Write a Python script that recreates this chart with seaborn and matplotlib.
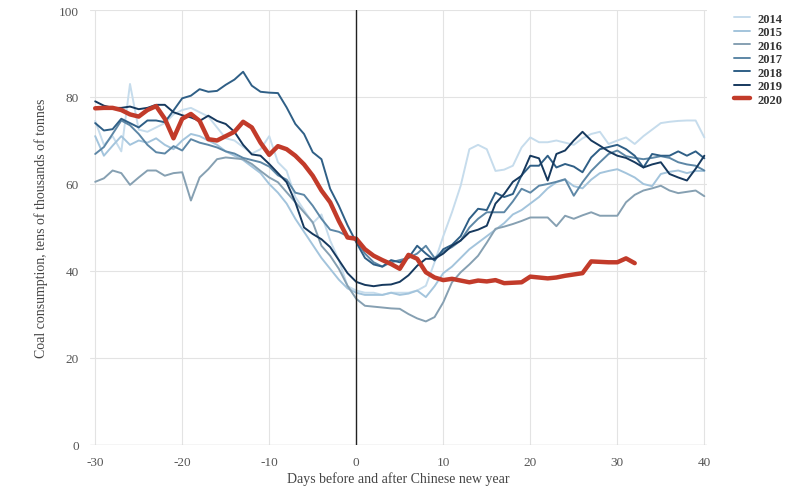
import numpy as np
import pandas as pd
import matplotlib
matplotlib.use("Agg")
import matplotlib.pyplot as plt
import seaborn as sns

# days relative to Chinese new year
days = list(range(-30, 41))
days_2020 = list(range(-30, 33))

# coal consumption, tens of thousands of tonnes
c2014 = [74.5, 69, 71, 67.5, 83, 72.5, 72, 73, 74, 76, 77, 77.5, 76.5, 75.5, 73, 70.5,
         70, 68.5, 67, 68, 71, 65, 63, 57, 54, 51, 53, 47, 42.5, 36.5,
         35.5, 35, 35, 34.5, 35, 35, 35, 35.5, 36.6, 42, 48, 53.5, 59.6, 68, 69,
         68, 63, 63.3, 64.2, 68.4, 70.7, 69.6, 69.6, 70, 69.5, 69, 70.5, 71.5, 72, 69.2,
         70, 70.7, 69.2, 71, 72.5, 74, 74.3, 74.5, 74.6, 74.6, 70.7]
c2015 = [71, 66.5, 68.8, 71, 69, 70, 69.5, 70.5, 69, 68, 70, 71.5, 71, 70, 69, 67.5,
         66.5, 65.5, 64, 62.5, 60, 58, 55.5, 52, 49, 46, 43, 40.5, 38, 36,
         35, 34.5, 34.5, 34.5, 35, 34.5, 34.8, 35.5, 34, 36.5, 39.5, 41, 43, 45, 46.5,
         48, 49.5, 51, 53, 54, 55.5, 57, 59, 60.4, 61, 59.5, 59, 61, 62.5, 63,
         63.4, 62.5, 61.5, 60, 59.5, 62.3, 62.8, 63.1, 62.5, 63, 63]
c2016 = [60.5, 61.3, 63.1, 62.5, 59.8, 61.5, 63.1, 63.1, 61.9, 62.5, 62.7, 56.2, 61.5, 63.4, 65.7,
         66.1, 65.9, 65.7, 64.6, 63, 61.5, 60.4, 58.1, 55.8, 53.5, 51.2, 45.8, 43.5, 40.5, 36.6,
         33.6, 32, 31.8, 31.6, 31.4, 31.3, 30.1, 29.1, 28.4, 29.4, 32.8, 37.4, 39.7, 41.5, 43.5,
         46.5, 49.7, 50.2, 50.8, 51.5, 52.3, 52.3, 52.3, 50.3, 52.7, 52, 52.8, 53.5, 52.7, 52.7,
         52.7, 55.8, 57.5, 58.5, 59, 59.6, 58.5, 57.9, 58.2, 58.5, 57.2]
c2017 = [66.9, 68.5, 71.5, 74.6, 73.5, 71.5, 69, 67.3, 67, 68.7, 67.7, 70.3, 69.5, 69, 68.4, 67.5,
         67, 66, 65.5, 65, 64, 62, 61, 58, 57.5, 55, 52, 49.5, 49, 48,
         47, 44, 42, 41, 42, 42.5, 43, 44, 45.8, 43, 44.5, 45.5, 47, 50, 52,
         53.5, 53.5, 53.5, 56, 58.9, 58, 59.6, 60, 60.5, 61.1, 57.3, 60.4, 63, 65, 66.9,
         67.7, 66.4, 66, 65.7, 66, 66.4, 66, 65, 64.5, 64.2, 63.1]
c2018 = [74, 72.3, 72.6, 75, 74, 73, 74.6, 74.6, 74.2, 76.9, 79.7, 80.3, 81.8, 81.2, 81.4, 82.8,
         84, 85.8, 82.6, 81.2, 81, 80.9, 77.6, 73.8, 71.5, 67.3, 65.7, 58.9, 55, 50.5,
         46.6, 43, 41.5, 41, 42.5, 42, 43, 45.8, 44, 42.4, 45, 46, 48, 52, 54.3,
         54, 58, 57, 57.7, 62, 64.2, 64.2, 66.5, 63.8, 64.6, 64, 62.7, 66.1, 68, 68.5,
         69, 68, 66.5, 63.8, 66.9, 66.5, 66.5, 67.5, 66.5, 67.5, 65.9]
c2019 = [79, 78, 77.5, 77.5, 77.8, 77.2, 77.5, 78.2, 78.2, 76.5, 75.8, 75.3, 74.5, 75.7, 74.5, 73.8,
         72, 69, 66.8, 66.5, 64.6, 62.5, 60.4, 55.8, 50, 48.5, 47.3, 45.5, 42.5, 39.5,
         37.5, 36.8, 36.5, 36.8, 36.9, 37.5, 39, 41.2, 42.8, 42.8, 44, 45.8, 47, 48.9, 49.5,
         50.4, 55.5, 57.7, 60.5, 61.9, 66.5, 65.9, 60.8, 66.9, 67.7, 70, 72, 70, 68.8, 67.5,
         66.5, 66, 65, 63.8, 64.5, 65, 62.3, 61.5, 60.8, 63.5, 66.5]
c2020 = [77.4, 77.5, 77.5, 77, 76, 75.5, 77, 77.9, 75, 70.5, 75, 76.1, 74.5, 70.3, 70, 71,
         72, 74.3, 73, 69.5, 66.7, 68.7, 68, 66.5, 64.5, 61.9, 58.5, 55.8, 51.5, 47.7,
         47.4, 45, 43.5, 42.5, 41.6, 40.5, 43.7, 42.8, 39.7, 38.5, 37.9, 38.2, 37.8, 37.4, 37.8,
         37.6, 37.9, 37.2, 37.3, 37.4, 38.7, 38.5, 38.3, 38.5, 38.9, 39.2, 39.5, 42.2, 42.1, 42,
         42, 42.9, 41.8]

years = ["2014", "2015", "2016", "2017", "2018", "2019", "2020"]
series = [c2014, c2015, c2016, c2017, c2018, c2019, c2020]
colors = ["#c6dcec", "#a3c4dc", "#86a0b2", "#5d87a6", "#2f5f86", "#16395e", "#c23b2a"]

frames = []
for yr, vals in zip(years, series):
    x = days_2020 if yr == "2020" else days
    frames.append(pd.DataFrame({"day": x, "value": vals, "year": yr}))
df = pd.concat(frames, ignore_index=True)

sns.set_style("white")
plt.rcParams["font.family"] = ["Liberation Serif", "DejaVu Serif"]
plt.rcParams["axes.unicode_minus"] = False

fig = plt.figure(figsize=(7.92, 4.89), dpi=100)
ax = fig.add_axes([0.1136, 0.088, 0.779, 0.8895])

# grid
for gx in range(-30, 41, 10):
    ax.axvline(gx, color="#e3e3e3", lw=0.8, zorder=0)
for gy in range(20, 101, 20):
    ax.axhline(gy, color="#e3e3e3", lw=0.8, zorder=0)
ax.axhline(0, color="#cfcfcf", lw=1.0, zorder=0)

for yr, col in zip(years, colors):
    sub = df[df["year"] == yr]
    lw = 3.2 if yr == "2020" else 1.4
    sns.lineplot(data=sub, x="day", y="value", color=col, lw=lw, ax=ax,
                 label=yr, zorder=5 if yr == "2020" else 3)

ax.axvline(0, color="#222222", lw=1.0, zorder=6)

ax.set_xlim(-30.6, 40.3)
ax.set_ylim(0, 100)
ax.set_xticks(range(-30, 41, 10))
ax.set_yticks(range(0, 101, 20))
for s in ax.spines.values():
    s.set_visible(False)
ax.tick_params(length=0, labelsize=9.5, colors="#555555", pad=8)
ax.set_xlabel("Days before and after Chinese new year", fontsize=10, color="#444444", labelpad=2)
ax.set_ylabel("Coal consumption, tens of thousands of tonnes", fontsize=10, color="#444444", labelpad=8)

leg = ax.legend(loc="upper left", bbox_to_anchor=(1.04, 1.0), frameon=False,
                borderaxespad=0, borderpad=0.2,
                fontsize=9, handlelength=1.3, labelspacing=0.12, handletextpad=0.6)
for t in leg.get_texts():
    t.set_fontweight("bold")
    t.set_color("#333333")

fig.savefig("out.png", dpi=100)
